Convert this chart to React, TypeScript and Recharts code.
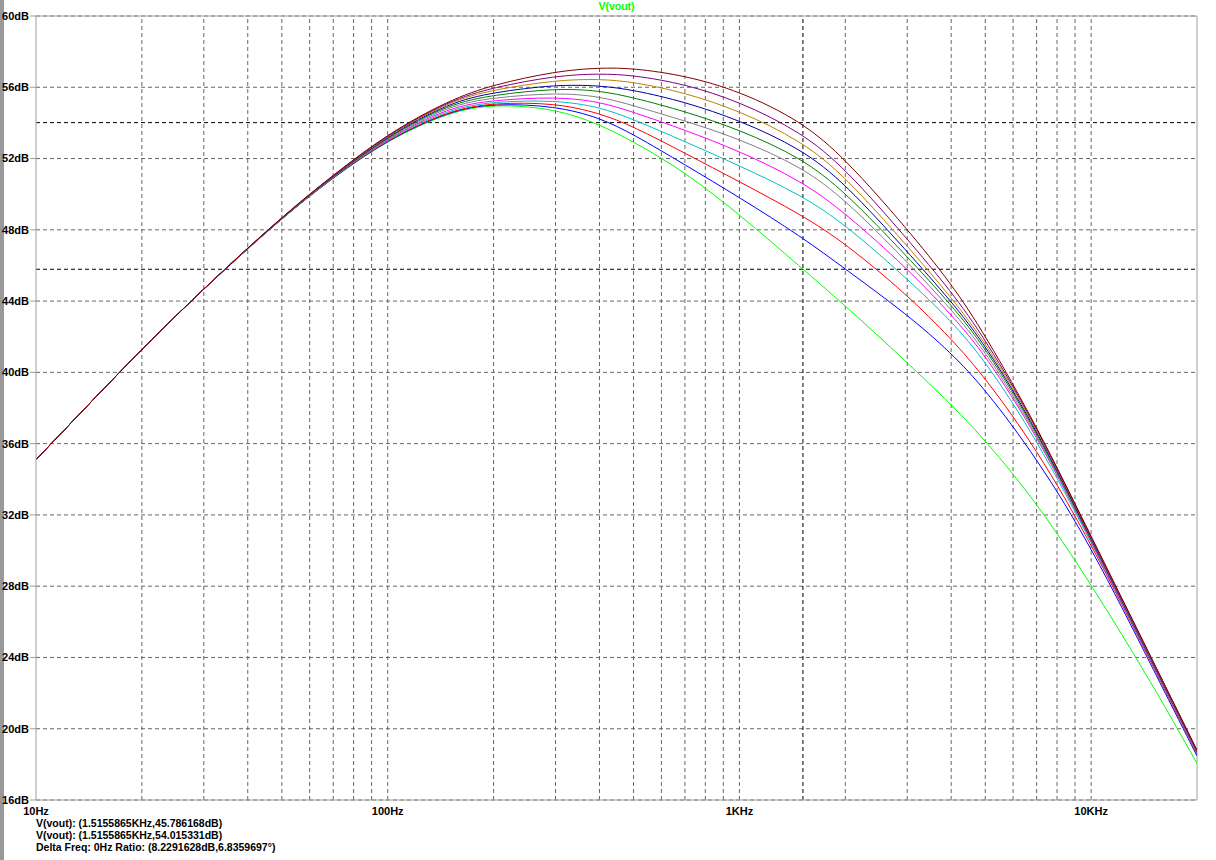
import { LineChart, Line, XAxis, YAxis, CartesianGrid, ReferenceLine } from 'recharts';

// frequency points (Hz)
const FREQS = [10, 15, 20, 30, 50, 70, 100, 150, 200, 300, 400, 500, 700, 1000, 1500, 2000, 3000, 4000, 5000, 7000, 10000, 15000, 20000];

// V(vout) in dB for each .step run, lowest peak first
const STEP_1 = [35.1, 38.75, 41.3, 44.72, 48.66, 50.94, 53.05, 54.62, 55.07, 54.8, 53.92, 52.95, 51.25, 48.87, 45.87, 43.75, 40.55, 38.2, 36.2, 32.7, 28.12, 22.44, 18.05];
const STEP_2 = [35.1, 38.75, 41.3, 44.72, 48.67, 50.95, 53.07, 54.68, 55.1, 54.95, 54.3, 53.36, 51.65, 49.82, 47.62, 45.8, 43.25, 41.1, 39.05, 35.2, 30.25, 23.35, 18.47];
const STEP_3 = [35.1, 38.75, 41.3, 44.72, 48.68, 50.96, 53.1, 54.72, 55.13, 55.12, 54.55, 53.8, 52.3, 50.7, 48.85, 47.25, 44.35, 41.9, 39.7, 35.7, 30.42, 23.5, 18.58];
const STEP_4 = [35.1, 38.75, 41.3, 44.72, 48.68, 50.98, 53.13, 54.8, 55.2, 55.28, 54.9, 54.2, 52.95, 51.6, 49.95, 48.3, 45.25, 42.9, 40.65, 36.25, 30.5, 23.56, 18.62];
const STEP_5 = [35.1, 38.75, 41.3, 44.72, 48.69, 50.99, 53.16, 54.9, 55.28, 55.47, 55.2, 54.6, 53.6, 52.42, 50.75, 48.95, 45.84, 43.25, 41.0, 36.5, 30.54, 23.6, 18.65];
const STEP_6 = [35.1, 38.75, 41.3, 44.72, 48.7, 51.0, 53.2, 55.0, 55.42, 55.7, 55.5, 54.97, 54.12, 53.1, 51.55, 49.7, 46.2, 43.55, 41.2, 36.6, 30.58, 23.63, 18.68];
const STEP_7 = [35.1, 38.75, 41.3, 44.72, 48.71, 51.02, 53.24, 55.08, 55.57, 55.94, 55.82, 55.42, 54.65, 53.62, 52.05, 50.12, 46.5, 43.8, 41.4, 36.72, 30.62, 23.66, 18.7];
const STEP_8 = [35.1, 38.75, 41.3, 44.72, 48.72, 51.03, 53.28, 55.15, 55.72, 56.15, 56.1, 55.85, 55.18, 54.15, 52.55, 50.6, 46.78, 44.0, 41.55, 36.82, 30.65, 23.69, 18.72];
const STEP_9 = [35.1, 38.75, 41.3, 44.72, 48.72, 51.05, 53.32, 55.22, 55.87, 56.4, 56.47, 56.3, 55.7, 54.68, 53.0, 51.0, 47.1, 44.22, 41.7, 36.92, 30.7, 23.72, 18.74];
const STEP_10 = [35.1, 38.75, 41.3, 44.72, 48.73, 51.06, 53.36, 55.26, 56.0, 56.65, 56.77, 56.68, 56.18, 55.2, 53.48, 51.45, 47.5, 44.55, 41.88, 36.97, 30.75, 23.76, 18.77];
const STEP_11 = [35.1, 38.75, 41.3, 44.72, 48.74, 51.08, 53.4, 55.3, 56.15, 56.9, 57.1, 57.07, 56.66, 55.79, 54.1, 52.0, 48.05, 45.0, 42.1, 37.0, 30.8, 23.8, 18.8];

const STEP_COLORS = ['#00ff00', '#0000ff', '#ff0000', '#00bfbf', '#ff00ff', '#808080', '#008000', '#0000a0', '#bf8000', '#800080', '#800000'];

const X_TICKS = [10, 100, 1000, 10000];
const Y_TICKS = [16, 20, 24, 28, 32, 36, 40, 44, 48, 52, 56, 60];

// cursor positions
const CURSOR_FREQ = 1515.5865;
const CURSOR_DB = [45.786168, 54.015331];
const READOUT = [
  'V(vout): (1.5155865KHz,45.786168dB)',
  'V(vout): (1.5155865KHz,54.015331dB)',
  'Delta Freq: 0Hz Ratio: (8.2291628dB,6.8359697°)',
];

const STEPS = [STEP_1, STEP_2, STEP_3, STEP_4, STEP_5, STEP_6, STEP_7, STEP_8, STEP_9, STEP_10, STEP_11];

// log grid: 2..9 of each decade plus the decades
const GRID_FREQS = [10, 100, 1000].flatMap(d => [1, 2, 3, 4, 5, 6, 7, 8, 9].map(m => m * d)).concat([10000]).filter(f => f > 10);

const fmtFreq = (f: number) => (f >= 1000 ? `${f / 1000}KHz` : `${f}Hz`);

const gridColor = '#666';
const frameColor = '#a0a0a0';
const font = '"Liberation Sans", Arial, sans-serif';

export default function App() {
  const rows = FREQS.map((f, i) => {
    const row: any = { f };
    STEPS.forEach((s, k) => { row[`s${k}`] = s[i]; });
    return row;
  });

  return (
    <div style={{ position: 'absolute', left: 0, top: 0, width: 1216, height: 860, background: '#fff', fontFamily: font, overflow: 'hidden' }}>
      <div style={{ position: 'absolute', left: 0, top: 0, width: 4, height: 860, background: '#999' }} />
      <LineChart width={1216} height={860} data={rows} margin={{ top: 16, right: 19, bottom: 40, left: 0 }}>
        <CartesianGrid vertical={false} stroke={gridColor} strokeDasharray="4 3" />
        {GRID_FREQS.map(f => (
          <ReferenceLine key={f} x={f} stroke={gridColor} strokeDasharray="4 3" />
        ))}
        <XAxis
          dataKey="f"
          type="number"
          scale="log"
          domain={[10, 20000]}
          ticks={X_TICKS}
          interval={0}
          allowDataOverflow
          tickFormatter={fmtFreq}
          height={20}
          tickLine={false}
          tickSize={4}
          tickMargin={3}
          axisLine={{ stroke: frameColor }}
          tick={{ fill: '#000', fontSize: 11, fontWeight: 'bold', fontFamily: font }}
        />
        <YAxis
          type="number"
          domain={[16, 60]}
          ticks={Y_TICKS}
          interval={0}
          allowDataOverflow
          width={36}
          tickFormatter={(v: number) => `${v}dB`}
          tickSize={6}
          tickMargin={1}
          tickLine={{ stroke: frameColor }}
          axisLine={{ stroke: frameColor }}
          tick={{ fill: '#000', fontSize: 11, fontWeight: 'bold', fontFamily: font }}
        />
        <ReferenceLine y={60} stroke={frameColor} />
        <ReferenceLine x={20000} stroke={frameColor} />
        <ReferenceLine x={CURSOR_FREQ} stroke="#000" strokeDasharray="4 3" />
        {CURSOR_DB.map(v => (
          <ReferenceLine key={v} y={v} stroke="#000" strokeDasharray="4 3" />
        ))}
        {STEPS.map((_, k) => (
          <Line
            key={k}
            dataKey={`s${k}`}
            type="basis"
            stroke={STEP_COLORS[k]}
            strokeWidth={1}
            dot={false}
            isAnimationActive={false}
          />
        ))}
      </LineChart>
      <div style={{ position: 'absolute', left: 0, width: 1233, top: 0, textAlign: 'center', color: '#00ff00', fontSize: 10.5, fontWeight: 'bold', lineHeight: '12px' }}>
        V(vout)
      </div>
      {READOUT.map((t, i) => (
        <div key={i} style={{ position: 'absolute', left: 36, top: 817 + i * 12, fontSize: 10.5, fontWeight: 'bold', lineHeight: '12px', whiteSpace: 'nowrap', color: '#000' }}>
          {t}
        </div>
      ))}
    </div>
  );
}
